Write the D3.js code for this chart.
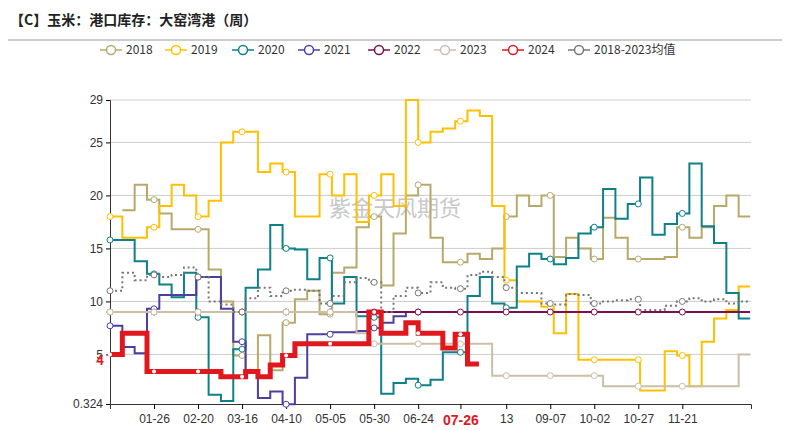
<!DOCTYPE html>
<html><head><meta charset="utf-8">
<script src="https://cdn.jsdelivr.net/npm/d3@7"></script>
<style>body{margin:0;background:#fff;font-family:"Noto Sans CJK SC","Noto Sans",sans-serif}</style>
</head><body><div id="chart"></div>
<script>
// weekly port stock values (week i starts on day 7*i)
const s2018 = [null,18.6,21,19.6,18.3,16.8,16.8,16.8,13,10,4.9,3.5,6.8,3.5,8,10.2,11,8.8,12.7,13.2,17,18,11.5,16.4,20,21,16,13.7,13.7,14.5,14,15,18,20,19,20,14.2,16,15,14,17.9,16,14,14,14,14.2,17,16,17,19,20,18];
const s2019 = [18,16,16,17,19,21,20,18,19.5,25,26,26,22.2,23,22.2,18,18,22,20,22,17.5,20,22,19,29,25,26,26.3,27,28,27.5,19,12,10,10,9.5,7,10.7,4.5,4.5,4.5,4.5,4.5,1.6,1.6,5.3,4.9,2,6.2,8.4,9.2,11.4];
const s2020 = [15.8,15.8,13.8,12.6,11.6,10.4,12.7,8.5,1.2,0.6,5.5,11.3,13,17.2,15,14.9,12.1,14.1,9.8,12.3,8.6,8.5,1.3,2.3,2.7,2.1,2.6,5.2,5.2,10.5,12.3,9.8,9.4,13.3,14.5,14,13.5,14.1,16.4,17,20.6,17.8,19.2,21.7,16.3,17.3,18.3,23,17.1,15.5,10.8,8.4];
const s2021 = [7.7,5.7,5.1,9.3,10.6,10.6,10.6,12.3,12.3,9.3,6.2,3.3,0.9,1.5,0.3,2.8,6.9,6.9,7.1,7.1,7.2,7.5,8,8.6,9,9];
const s2022 = Array(52).fill(9);
const s2023 = [9,9,9,9,9,9,9,9,9,9,9,9,9,9,9,9,9,9,9,9,7,6,6,6,6,6,6,6,6,6,6,3,3,3,3,3,3,3,3,3,2,2,2,2,2,2,2,2,2,2,2,5];
const s2024 = [5,7,7,3.4,3.4,3.4,3.4,3.4,3.4,2.9,2.9,3.4,2.9,4,4.9,6,6,6,6,6,6,9,7,7,8,7,7,5.6,6.9,4.1];
const sMean = [11,12.7,12,12.5,12.3,12.5,13.2,12.3,10,9.7,9,10.3,11.3,10.5,11,11.1,11,9.8,10.5,11.8,12.2,11.8,9,10.5,11.3,10.8,11.8,11.3,11.2,12.5,12.8,12.3,11.3,10.8,10.8,9.8,9.7,10.7,10.6,9.8,10,10.1,10.2,9.2,9.2,9.6,10,10.3,10,10.2,9.8,10];

const seriesNames = ["2018","2019","2020","2021","2022","2023","2024","2018-2023均值"];
const seriesData = [s2018,s2019,s2020,s2021,s2022,s2023,s2024,sMean];
const colors = ["#b8a96b","#ffc000","#0e8088","#4e3ea0","#7a0f52","#cbbfa8","#e0181e","#777"];
const tickDays = [25,50,75,100,125,150,175,199,225,250,275,300,325];
const tickLabels = ["01-26","02-20","03-16","04-10","05-05","05-30","06-24","07-26","13","09-07","10-02","10-27","11-21"];
const yTicks = [0.324,5,10,15,20,25,29];

const W = 792, H = 430;
const svg = d3.select("#chart").append("svg").attr("width", W).attr("height", H);

svg.append("text").attr("x", 10).attr("y", 25).attr("font-size", 14).attr("font-weight", "bold")
  .attr("fill", "#222").text("【C】玉米：港口库存：大窑湾港（周）");
svg.append("line").attr("x1", 8).attr("x2", 782).attr("y1", 40).attr("y2", 40).attr("stroke", "#999");

const x = d3.scaleLinear().domain([0, 364]).range([110, 751]);
const y = d3.scaleLinear().domain([0.324, 29]).range([404, 100]);

// grid + y axis
svg.append("g").selectAll("line").data(yTicks.slice(1)).join("line")
  .attr("x1", 110).attr("x2", 751).attr("y1", d => y(d)).attr("y2", d => y(d)).attr("stroke", "#ccc");
svg.append("g").attr("transform", "translate(110,0)")
  .call(d3.axisLeft(y).tickValues(yTicks).tickSize(4).tickFormat(d => d))
  .call(g => g.selectAll("text").attr("font-size", 12).attr("fill", "#333"))
  .call(g => g.select(".domain").attr("stroke", "#333"));
svg.append("g").attr("transform", "translate(0,404)")
  .call(d3.axisBottom(x).tickValues(tickDays).tickSize(5).tickFormat((d, i) => tickLabels[i]))
  .call(g => g.select(".domain").attr("stroke", "#333"))
  .call(g => g.selectAll("text").attr("font-size", 12).attr("fill", "#333").attr("dy", "0.9em"))
  .call(g => g.selectAll(".tick").filter((d, i) => i === 7).select("text")
    .attr("fill", "#e0181e").attr("font-weight", "bold").attr("font-size", 14));

svg.append("text").attr("x", 395).attr("y", 216).attr("text-anchor", "middle").attr("font-size", 22)
  .attr("fill", "#bbb").attr("opacity", 0.8).text("紫金天风期货");

const pts = arr => {
  const p = [];
  arr.forEach((v, i) => { if (v != null) p.push([7 * i, v]); });
  const last = arr.length - 1;
  p.push([Math.min(7 * (last + 1), 364) - 0.5, arr[last]]);
  return p;
};
const line = d3.line().x(d => x(d[0])).y(d => y(d[1])).curve(d3.curveStepAfter);
const valAt = (arr, d) => arr[Math.floor(d / 7)];

const order = [0,1,2,3,4,5,7,6];
order.forEach(k => {
  const arr = seriesData[k];
  const g = svg.append("g");
  g.append("path").attr("d", line(pts(arr))).attr("fill", "none").attr("stroke", colors[k])
    .attr("stroke-width", k === 6 ? 5 : (k === 7 ? 2 : 2))
    .attr("stroke-dasharray", k === 7 ? "2,3" : null);
  const dots = [0, ...tickDays].filter(d => d < arr.length * 7 && valAt(arr, d) != null);
  g.selectAll("circle").data(dots).join("circle")
    .attr("cx", d => x(d)).attr("cy", d => y(valAt(arr, d)))
    .attr("r", k === 6 ? 2 : 3).attr("fill", "#fff")
    .attr("stroke", k === 6 ? "none" : colors[k]).attr("stroke-width", 1);
});
svg.append("text").attr("x", 104).attr("y", y(s2024[s2024.length - 1]) + 1).attr("text-anchor", "end")
  .attr("font-size", 13).attr("font-weight", "bold").attr("fill", "#e0181e").text("4");

// legend
const legX = [100,165,232,298,368,434,502,568];
const leg = svg.append("g").selectAll("g").data(seriesNames).join("g")
  .attr("transform", (d, i) => `translate(${legX[i]},50)`);
leg.append("line").attr("x1", 0).attr("x2", 22).attr("stroke", (d, i) => colors[i]).attr("stroke-width", 1.5);
leg.append("circle").attr("cx", 11).attr("r", 4.5).attr("fill", "#fff").attr("stroke", (d, i) => colors[i]).attr("stroke-width", 1.5);
leg.append("text").attr("x", 26).attr("dy", "0.35em").attr("font-size", 12).attr("fill", "#333").text(d => d);
</script></body></html>
